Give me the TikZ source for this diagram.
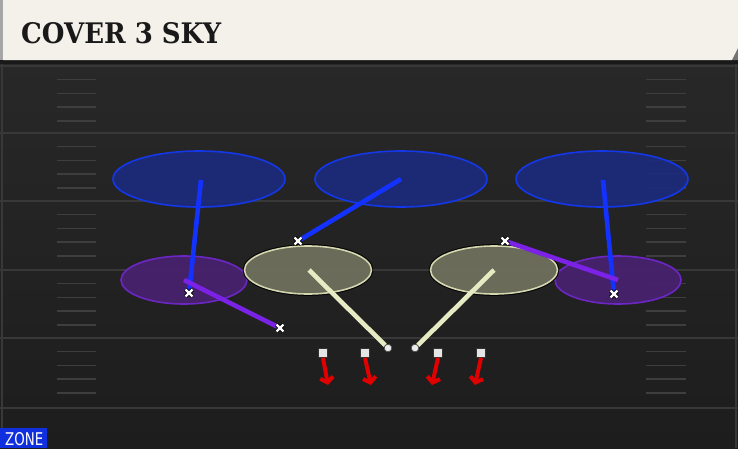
\documentclass[tikz,border=0pt]{standalone}
\usepackage{fontspec}
\setmainfont{DejaVu Sans}
\newfontfamily\titlefont{DejaVu Serif}[BoldFont={DejaVu Serif Bold}]
\newfontfamily\zonefont{DejaVu Sans}
\usetikzlibrary{shapes.geometric,arrows.meta}
\definecolor{hdr}{HTML}{F3F1EA}
\definecolor{fieldtop}{HTML}{282828}
\definecolor{fieldbot}{HTML}{1D1D1D}
\definecolor{yardline}{HTML}{383838}
\definecolor{hashcol}{HTML}{3E3E3E}
\definecolor{bluefill}{HTML}{1C2B7C}
\definecolor{bluedraw}{HTML}{1437E8}
\definecolor{blueline}{HTML}{1432FF}
\definecolor{purpfill}{HTML}{482170}
\definecolor{purpdraw}{HTML}{6B26C4}
\definecolor{purpline}{HTML}{7B22E6}
\definecolor{olivefill}{HTML}{6E705C}
\definecolor{olivedraw}{HTML}{D4D6B0}
\definecolor{creamline}{HTML}{E6EBC4}
\definecolor{routered}{HTML}{E00000}
\definecolor{zoneblue}{HTML}{1030E0}
\tikzset{
  deepzone/.style={ellipse, inner sep=0pt, minimum width=172pt, minimum height=56pt, fill=bluefill, fill opacity=0.92, draw=bluedraw, line width=1.6pt},
  flatzone/.style={ellipse, inner sep=0pt, minimum width=126pt, minimum height=48pt, fill=purpfill, fill opacity=0.92, draw=purpdraw, line width=1.6pt},
  hookzone/.style={ellipse, inner sep=0pt, minimum width=127pt, minimum height=48pt, fill=olivefill, fill opacity=0.95, draw=olivedraw, line width=1.6pt, preaction={draw=black, line width=3.6pt}},
  bluedrop/.style={draw=blueline, line width=4.6pt},
  purpdrop/.style={draw=purpline, line width=4.6pt},
  creamdrop/.style={draw=creamline, line width=4.6pt},
  dlpt/.style={circle, fill=white!92!black, draw=black!70, line width=0.6pt, minimum size=7.5pt, inner sep=0pt},
  olpt/.style={rectangle, fill=white!90!black, draw=black!80, line width=0.8pt, minimum size=9pt, inner sep=0pt},
  redroute/.style={draw=routered, line width=4pt, -{Straight Barb[length=5pt, width=13pt]}},
  yard/.style={draw=yardline, line width=1.8pt},
  hashm/.style={draw=hashcol, line width=1.5pt},
  xm/.pic={
    \draw[black, line width=4.2pt] (-3.4,-3.4) -- (3.4,3.4) (-3.4,3.4) -- (3.4,-3.4);
    \draw[white, line width=2.4pt] (-3.4,-3.4) -- (3.4,3.4) (-3.4,3.4) -- (3.4,-3.4);
  }
}
\begin{document}
\begin{tikzpicture}[x=1pt, y=-1pt]
\useasboundingbox (0,0) rectangle (738,448);
% field
\shade[top color=fieldtop, bottom color=fieldbot] (0,60) rectangle (738,448);
\fill[black!90] (0,60) rectangle (738,64);
% side lines
\draw[yard] (2,64) -- (2,448);
\draw[yard] (736,64) -- (736,448);
% yard lines
\foreach \yy in {66,133,201,270,338,408} {
  \draw[yard] (0,\yy) -- (738,\yy);
}
% hash marks
\foreach \yy in {66,133,201,270,338} {
  \foreach \k in {1,2,3,4} {
    \draw[hashm] (57,{\yy+13.7*\k}) -- (96,{\yy+13.7*\k});
    \draw[hashm] (646,{\yy+13.7*\k}) -- (686,{\yy+13.7*\k});
  }
}
% header
\fill[hdr] (3,0) -- (738,0) -- (738,48) -- (732,60) -- (3,60) -- cycle;
\fill[black!35] (0,0) rectangle (3,60);
\fill[black!55] (738,48) -- (738,60) -- (732,60) -- cycle;
\node[anchor=base west, inner sep=0pt, text=black!90] (title) at (21,43)
  {\resizebox{200pt}{21pt}{\titlefont\bfseries COVER 3 SKY}};
% zones
\node[deepzone] (d1) at (199,179) {};
\node[deepzone] (d2) at (401,179) {};
\node[deepzone] (d3) at (602,179) {};
\node[flatzone] (f1) at (184,280) {};
\node[flatzone] (f2) at (618,280) {};
\node[hookzone] (h1) at (308,270) {};
\node[hookzone] (h2) at (494,270) {};
% defender spots
\coordinate (x1) at (189,293);
\coordinate (x2) at (298,241);
\coordinate (x3) at (505,241);
\coordinate (x4) at (614,294);
\coordinate (x5) at (280,328);
\node[dlpt] (p1) at (388,348) {};
\node[dlpt] (p2) at (415,348) {};
% drops
\draw[bluedrop] (201,180) -- (x1);
\draw[bluedrop] (d2.center) -- (x2);
\draw[bluedrop] (603,180) -- (x4);
\draw[purpdrop] (f1.center) -- (x5);
\draw[purpdrop] (f2.center) -- (x3);
\draw[creamdrop] (309,270) -- (p1);
\draw[creamdrop] (494,270) -- (p2);
\node[dlpt] at (p1) {};
\node[dlpt] at (p2) {};
\foreach \c in {x1,x2,x3,x4,x5} { \pic at (\c) {xm}; }
% offense
\node[olpt] (o1) at (323,353) {};
\node[olpt] (o2) at (365,353) {};
\node[olpt] (o3) at (438,353) {};
\node[olpt] (o4) at (481,353) {};
\coordinate (t1) at (328,385);
\coordinate (t2) at (371,385);
\coordinate (t3) at (432,385);
\coordinate (t4) at (475,385);
\draw[redroute] (o1.south) -- (t1);
\draw[redroute] (o2.south) -- (t2);
\draw[redroute] (o3.south) -- (t3);
\draw[redroute] (o4.south) -- (t4);
% zone label
\fill[zoneblue] (0,428) rectangle (47,448);
\node[anchor=base west, inner sep=0pt, text=white] (zone) at (5,445)
  {\resizebox{38pt}{13pt}{\zonefont ZONE}};
\end{tikzpicture}
\end{document}
